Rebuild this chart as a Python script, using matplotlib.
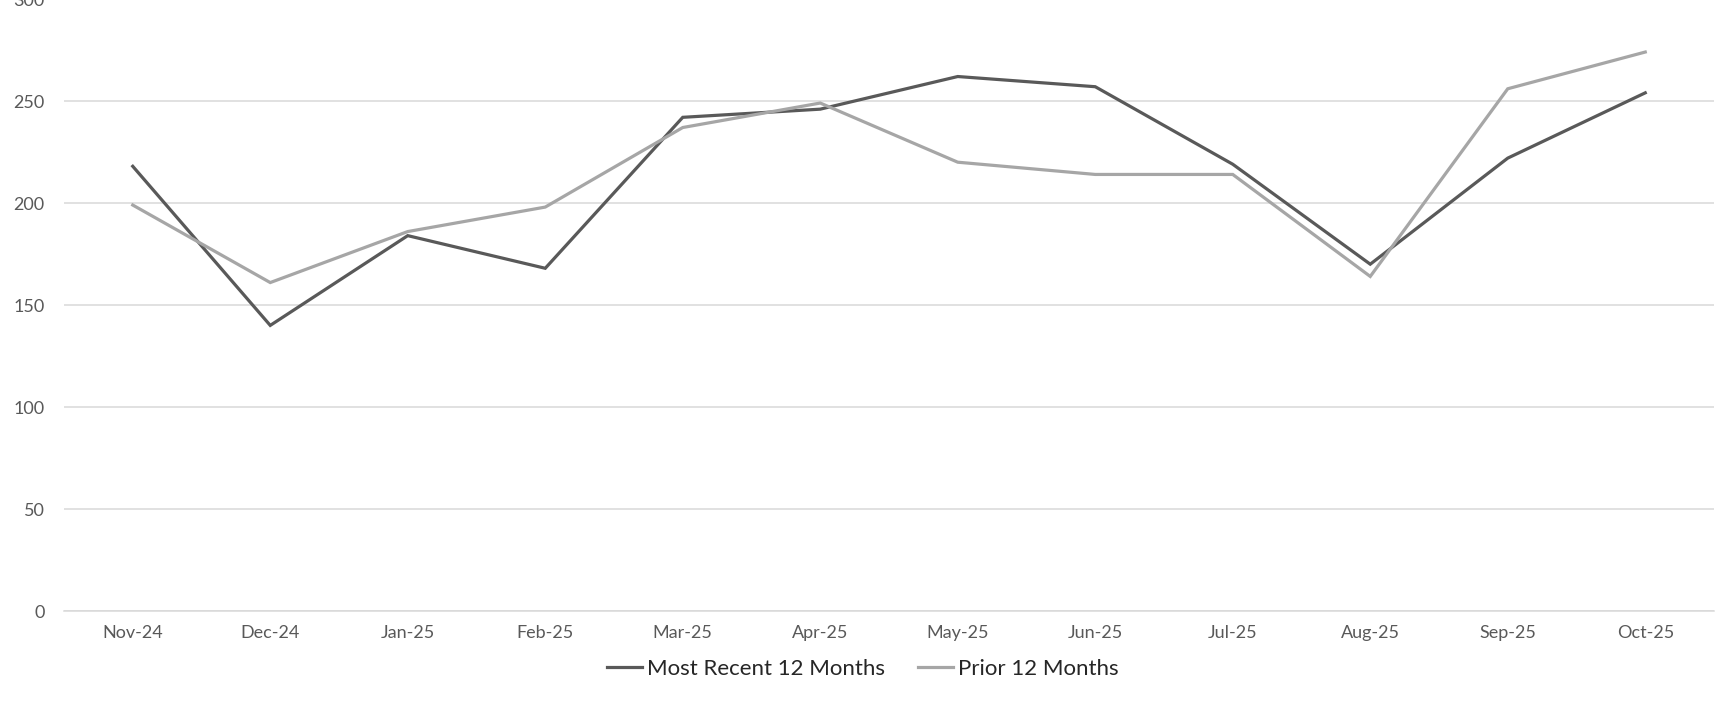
import matplotlib
matplotlib.use("Agg")
import matplotlib.pyplot as plt

months = ["Nov-24", "Dec-24", "Jan-25", "Feb-25", "Mar-25", "Apr-25",
          "May-25", "Jun-25", "Jul-25", "Aug-25", "Sep-25", "Oct-25"]
recent = [218, 140, 184, 168, 242, 246, 262, 257, 219, 170, 222, 254]
prior = [199, 161, 186, 198, 237, 249, 220, 214, 214, 164, 256, 274]
yticks = [0, 50, 100, 150, 200, 250, 300]

plt.rcParams['font.family'] = ['Lato', 'DejaVu Sans']

fig = plt.figure(figsize=(17.25, 7.01), dpi=100)
ax = fig.add_axes([64/1725, 1 - 611/701, 1650/1725, 612/701])

x = list(range(len(months)))
ax.plot(x, recent, color="#595959", lw=2.3, label="Most Recent 12 Months", solid_joinstyle="miter")
ax.plot(x, prior, color="#A6A6A6", lw=2.3, label="Prior 12 Months", solid_joinstyle="miter")

ax.set_xlim(-0.5, len(months) - 0.5)
ax.set_ylim(0, 300)
ax.set_yticks(yticks)
ax.set_xticks(x)
ax.set_xticklabels(months)
ax.grid(axis="y", color="#D9D9D9", lw=1.1)
ax.set_axisbelow(True)
for s in ["top", "right", "left"]:
    ax.spines[s].set_visible(False)
ax.spines["bottom"].set_color("#D9D9D9")
ax.spines["bottom"].set_linewidth(1.1)
ax.tick_params(axis="both", length=0, labelsize=13, labelcolor="#595959")
ax.tick_params(axis="x", pad=10)
ax.tick_params(axis="y", pad=14)

leg = fig.legend(loc="center", bbox_to_anchor=(0.5, 1 - 669/701), ncol=2, frameon=False,
                 fontsize=16, handlelength=1.6, handletextpad=0.2, columnspacing=1.5,
                 borderaxespad=0)
for t in leg.get_texts():
    t.set_color("#262626")

fig.savefig("out.png", dpi=100)
